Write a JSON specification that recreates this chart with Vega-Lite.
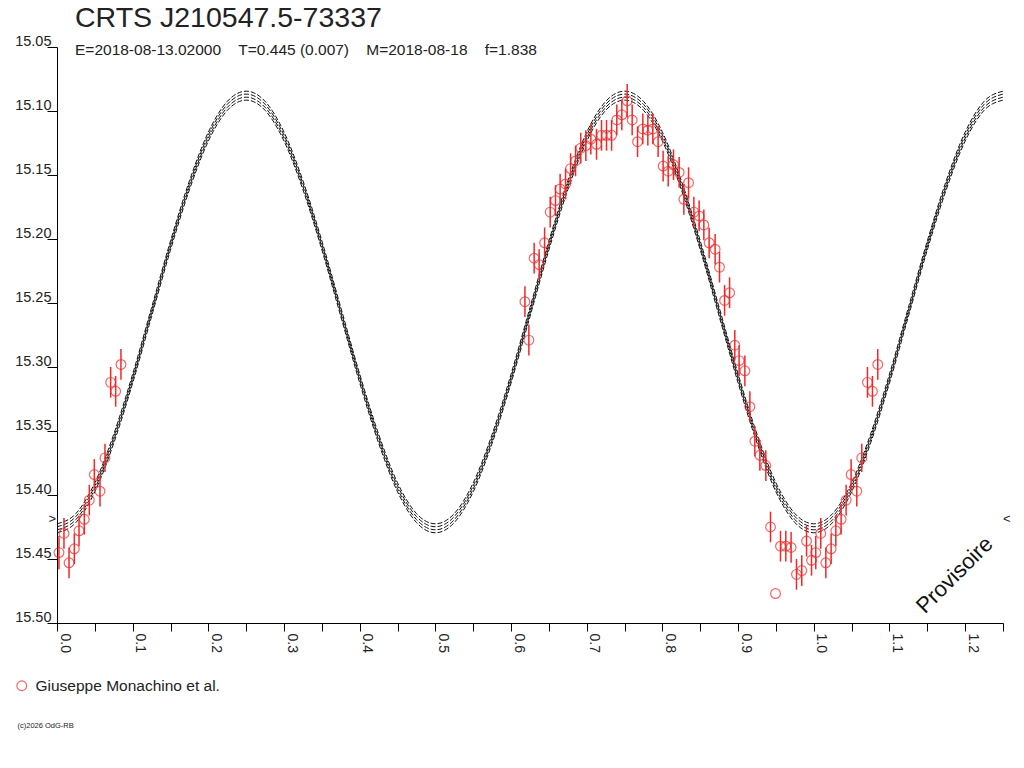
{
  "$schema": "https://vega.github.io/schema/vega-lite/v6.json",
  "width": 946,
  "height": 576,
  "autosize": "none",
  "padding": {"left": 57, "top": 47, "right": 21, "bottom": 145},
  "background": "white",
  "title": {
    "text": "CRTS J210547.5-73337",
    "subtitle": "E=2018-08-13.02000\u00a0\u00a0\u00a0\u00a0T=0.445 (0.007)\u00a0\u00a0\u00a0\u00a0M=2018-08-18\u00a0\u00a0\u00a0\u00a0f=1.838",
    "anchor": "start",
    "frame": "group",
    "dx": 18,
    "offset": -25,
    "font": "Liberation Sans",
    "fontSize": 28.5,
    "fontWeight": "normal",
    "color": "#222",
    "subtitleFont": "Liberation Sans",
    "subtitleFontSize": 15.5,
    "subtitleColor": "#222",
    "subtitlePadding": 10
  },
  "datasets": {
    "curve": [
      {"p": 0.000, "a": 15.4225, "b": 15.4248, "c": 15.4272, "d": 15.4295},
      {"p": 0.025, "a": 15.4145, "b": 15.4168, "c": 15.4192, "d": 15.4215},
      {"p": 0.050, "a": 15.3905, "b": 15.3928, "c": 15.3952, "d": 15.3975},
      {"p": 0.075, "a": 15.3525, "b": 15.3548, "c": 15.3572, "d": 15.3595},
      {"p": 0.100, "a": 15.3055, "b": 15.3078, "c": 15.3102, "d": 15.3125},
      {"p": 0.125, "a": 15.2535, "b": 15.2558, "c": 15.2582, "d": 15.2605},
      {"p": 0.150, "a": 15.2015, "b": 15.2038, "c": 15.2062, "d": 15.2085},
      {"p": 0.175, "a": 15.1545, "b": 15.1568, "c": 15.1592, "d": 15.1615},
      {"p": 0.200, "a": 15.1165, "b": 15.1188, "c": 15.1212, "d": 15.1235},
      {"p": 0.225, "a": 15.0925, "b": 15.0948, "c": 15.0972, "d": 15.0995},
      {"p": 0.250, "a": 15.0845, "b": 15.0868, "c": 15.0892, "d": 15.0915},
      {"p": 0.275, "a": 15.0925, "b": 15.0948, "c": 15.0972, "d": 15.0995},
      {"p": 0.300, "a": 15.1165, "b": 15.1188, "c": 15.1212, "d": 15.1235},
      {"p": 0.325, "a": 15.1545, "b": 15.1568, "c": 15.1592, "d": 15.1615},
      {"p": 0.350, "a": 15.2015, "b": 15.2038, "c": 15.2062, "d": 15.2085},
      {"p": 0.375, "a": 15.2535, "b": 15.2558, "c": 15.2582, "d": 15.2605},
      {"p": 0.400, "a": 15.3055, "b": 15.3078, "c": 15.3102, "d": 15.3125},
      {"p": 0.425, "a": 15.3525, "b": 15.3548, "c": 15.3572, "d": 15.3595},
      {"p": 0.450, "a": 15.3905, "b": 15.3928, "c": 15.3952, "d": 15.3975},
      {"p": 0.475, "a": 15.4145, "b": 15.4168, "c": 15.4192, "d": 15.4215},
      {"p": 0.500, "a": 15.4225, "b": 15.4248, "c": 15.4272, "d": 15.4295},
      {"p": 0.525, "a": 15.4145, "b": 15.4168, "c": 15.4192, "d": 15.4215},
      {"p": 0.550, "a": 15.3905, "b": 15.3928, "c": 15.3952, "d": 15.3975},
      {"p": 0.575, "a": 15.3525, "b": 15.3548, "c": 15.3572, "d": 15.3595},
      {"p": 0.600, "a": 15.3055, "b": 15.3078, "c": 15.3102, "d": 15.3125},
      {"p": 0.625, "a": 15.2535, "b": 15.2558, "c": 15.2582, "d": 15.2605},
      {"p": 0.650, "a": 15.2015, "b": 15.2038, "c": 15.2062, "d": 15.2085},
      {"p": 0.675, "a": 15.1545, "b": 15.1568, "c": 15.1592, "d": 15.1615},
      {"p": 0.700, "a": 15.1165, "b": 15.1188, "c": 15.1212, "d": 15.1235},
      {"p": 0.725, "a": 15.0925, "b": 15.0948, "c": 15.0972, "d": 15.0995},
      {"p": 0.750, "a": 15.0845, "b": 15.0868, "c": 15.0892, "d": 15.0915},
      {"p": 0.775, "a": 15.0925, "b": 15.0948, "c": 15.0972, "d": 15.0995},
      {"p": 0.800, "a": 15.1165, "b": 15.1188, "c": 15.1212, "d": 15.1235},
      {"p": 0.825, "a": 15.1545, "b": 15.1568, "c": 15.1592, "d": 15.1615},
      {"p": 0.850, "a": 15.2015, "b": 15.2038, "c": 15.2062, "d": 15.2085},
      {"p": 0.875, "a": 15.2535, "b": 15.2558, "c": 15.2582, "d": 15.2605},
      {"p": 0.900, "a": 15.3055, "b": 15.3078, "c": 15.3102, "d": 15.3125},
      {"p": 0.925, "a": 15.3525, "b": 15.3548, "c": 15.3572, "d": 15.3595},
      {"p": 0.950, "a": 15.3905, "b": 15.3928, "c": 15.3952, "d": 15.3975},
      {"p": 0.975, "a": 15.4145, "b": 15.4168, "c": 15.4192, "d": 15.4215},
      {"p": 1.000, "a": 15.4225, "b": 15.4248, "c": 15.4272, "d": 15.4295},
      {"p": 1.025, "a": 15.4145, "b": 15.4168, "c": 15.4192, "d": 15.4215},
      {"p": 1.050, "a": 15.3905, "b": 15.3928, "c": 15.3952, "d": 15.3975},
      {"p": 1.075, "a": 15.3525, "b": 15.3548, "c": 15.3572, "d": 15.3595},
      {"p": 1.100, "a": 15.3055, "b": 15.3078, "c": 15.3102, "d": 15.3125},
      {"p": 1.125, "a": 15.2535, "b": 15.2558, "c": 15.2582, "d": 15.2605},
      {"p": 1.150, "a": 15.2015, "b": 15.2038, "c": 15.2062, "d": 15.2085},
      {"p": 1.175, "a": 15.1545, "b": 15.1568, "c": 15.1592, "d": 15.1615},
      {"p": 1.200, "a": 15.1165, "b": 15.1188, "c": 15.1212, "d": 15.1235},
      {"p": 1.225, "a": 15.0925, "b": 15.0948, "c": 15.0972, "d": 15.0995},
      {"p": 1.250, "a": 15.0845, "b": 15.0868, "c": 15.0892, "d": 15.0915}
    ],
    "pts": [
      {"phase": 0.0026, "mag": 15.445, "err": 0.013},
      {"phase": 0.0092, "mag": 15.430, "err": 0.012},
      {"phase": 0.0159, "mag": 15.453, "err": 0.012},
      {"phase": 0.0229, "mag": 15.442, "err": 0.012},
      {"phase": 0.0291, "mag": 15.428, "err": 0.012},
      {"phase": 0.0361, "mag": 15.419, "err": 0.012},
      {"phase": 0.0427, "mag": 15.404, "err": 0.012},
      {"phase": 0.0493, "mag": 15.384, "err": 0.012},
      {"phase": 0.0568, "mag": 15.397, "err": 0.012},
      {"phase": 0.0634, "mag": 15.371, "err": 0.011},
      {"phase": 0.0709, "mag": 15.312, "err": 0.012},
      {"phase": 0.0775, "mag": 15.319, "err": 0.012},
      {"phase": 0.0845, "mag": 15.298, "err": 0.012},
      {"phase": 0.6183, "mag": 15.249, "err": 0.012},
      {"phase": 0.6235, "mag": 15.279, "err": 0.012},
      {"phase": 0.6305, "mag": 15.215, "err": 0.012},
      {"phase": 0.6371, "mag": 15.220, "err": 0.012},
      {"phase": 0.6443, "mag": 15.203, "err": 0.012},
      {"phase": 0.6517, "mag": 15.179, "err": 0.012},
      {"phase": 0.6587, "mag": 15.170, "err": 0.012},
      {"phase": 0.6648, "mag": 15.161, "err": 0.012},
      {"phase": 0.6720, "mag": 15.157, "err": 0.012},
      {"phase": 0.6786, "mag": 15.145, "err": 0.012},
      {"phase": 0.6852, "mag": 15.139, "err": 0.012},
      {"phase": 0.6921, "mag": 15.129, "err": 0.012},
      {"phase": 0.6988, "mag": 15.127, "err": 0.012},
      {"phase": 0.7054, "mag": 15.122, "err": 0.012},
      {"phase": 0.7129, "mag": 15.126, "err": 0.012},
      {"phase": 0.7195, "mag": 15.119, "err": 0.012},
      {"phase": 0.7261, "mag": 15.119, "err": 0.012},
      {"phase": 0.7328, "mag": 15.119, "err": 0.012},
      {"phase": 0.7397, "mag": 15.107, "err": 0.012},
      {"phase": 0.7463, "mag": 15.103, "err": 0.012},
      {"phase": 0.7534, "mag": 15.092, "err": 0.013},
      {"phase": 0.7600, "mag": 15.107, "err": 0.012},
      {"phase": 0.7671, "mag": 15.124, "err": 0.012},
      {"phase": 0.7741, "mag": 15.114, "err": 0.012},
      {"phase": 0.7807, "mag": 15.115, "err": 0.012},
      {"phase": 0.7873, "mag": 15.114, "err": 0.012},
      {"phase": 0.7943, "mag": 15.124, "err": 0.012},
      {"phase": 0.8009, "mag": 15.143, "err": 0.012},
      {"phase": 0.8076, "mag": 15.147, "err": 0.012},
      {"phase": 0.8146, "mag": 15.142, "err": 0.012},
      {"phase": 0.8221, "mag": 15.148, "err": 0.012},
      {"phase": 0.8283, "mag": 15.169, "err": 0.012},
      {"phase": 0.8345, "mag": 15.156, "err": 0.012},
      {"phase": 0.8415, "mag": 15.179, "err": 0.012},
      {"phase": 0.8485, "mag": 15.182, "err": 0.012},
      {"phase": 0.8547, "mag": 15.189, "err": 0.012},
      {"phase": 0.8617, "mag": 15.203, "err": 0.012},
      {"phase": 0.8696, "mag": 15.208, "err": 0.012},
      {"phase": 0.8754, "mag": 15.222, "err": 0.012},
      {"phase": 0.8821, "mag": 15.248, "err": 0.012},
      {"phase": 0.8887, "mag": 15.242, "err": 0.012},
      {"phase": 0.8956, "mag": 15.283, "err": 0.012},
      {"phase": 0.9013, "mag": 15.295, "err": 0.012},
      {"phase": 0.9089, "mag": 15.303, "err": 0.012},
      {"phase": 0.9155, "mag": 15.331, "err": 0.012},
      {"phase": 0.9221, "mag": 15.358, "err": 0.012},
      {"phase": 0.9287, "mag": 15.369, "err": 0.012},
      {"phase": 0.9366, "mag": 15.377, "err": 0.012},
      {"phase": 0.9428, "mag": 15.425, "err": 0.012},
      {"phase": 0.9494, "mag": 15.477, "err": 0.0},
      {"phase": 0.9560, "mag": 15.440, "err": 0.012},
      {"phase": 0.9630, "mag": 15.440, "err": 0.012},
      {"phase": 0.9700, "mag": 15.441, "err": 0.012},
      {"phase": 0.9771, "mag": 15.462, "err": 0.012},
      {"phase": 0.9841, "mag": 15.459, "err": 0.012},
      {"phase": 0.9904, "mag": 15.436, "err": 0.012},
      {"phase": 0.9970, "mag": 15.451, "err": 0.012},
      {"phase": 1.0026, "mag": 15.445, "err": 0.013},
      {"phase": 1.0092, "mag": 15.430, "err": 0.012},
      {"phase": 1.0159, "mag": 15.453, "err": 0.012},
      {"phase": 1.0229, "mag": 15.442, "err": 0.012},
      {"phase": 1.0291, "mag": 15.428, "err": 0.012},
      {"phase": 1.0361, "mag": 15.419, "err": 0.012},
      {"phase": 1.0427, "mag": 15.404, "err": 0.012},
      {"phase": 1.0493, "mag": 15.384, "err": 0.012},
      {"phase": 1.0568, "mag": 15.397, "err": 0.012},
      {"phase": 1.0634, "mag": 15.371, "err": 0.011},
      {"phase": 1.0709, "mag": 15.312, "err": 0.012},
      {"phase": 1.0775, "mag": 15.319, "err": 0.012},
      {"phase": 1.0845, "mag": 15.298, "err": 0.012}
    ]
  },
  "encoding": {
    "x": {
      "type": "quantitative",
      "scale": {"domain": [0, 1.25], "nice": false, "zero": false},
      "axis": {
        "values": [0, 0.05, 0.1, 0.15, 0.2, 0.25, 0.3, 0.35, 0.4, 0.45, 0.5, 0.55, 0.6, 0.65, 0.7, 0.75, 0.8, 0.85, 0.9, 0.95, 1.0, 1.05, 1.1, 1.15, 1.2, 1.25],
        "labelExpr": "round(datum.value * 20) % 2 == 0 ? format(datum.value, '.1f') : ''",
        "labelAngle": 90,
        "labelAlign": "left",
        "labelBaseline": "bottom",
        "labelPadding": 2,
        "labelFontSize": 14,
        "labelFlush": false,
        "labelOverlap": false,
        "tickSize": 8,
        "title": "(c)2026 OdG-RB",
        "titleX": -40,
        "titleY": 102,
        "titleAlign": "left",
        "titleBaseline": "middle",
        "titleFontSize": 7.5,
        "titleFontWeight": "normal",
        "titleColor": "#222"
      }
    },
    "y": {
      "type": "quantitative",
      "scale": {"domain": [15.05, 15.5], "reverse": true, "nice": false, "zero": false},
      "axis": {
        "values": [15.05, 15.1, 15.15, 15.2, 15.25, 15.3, 15.35, 15.4, 15.45, 15.5],
        "format": ".2f",
        "tickSize": 10,
        "labelPadding": -4,
        "labelAlign": "right",
        "labelBaseline": "alphabetic",
        "labelOffset": -2,
        "labelFontSize": 14.5,
        "labelFlush": false,
        "labelOverlap": false,
        "title": null
      }
    }
  },
  "layer": [
    {
      "data": {"name": "curve"},
      "transform": [{"fold": ["a", "b", "c", "d"], "as": ["line", "mag"]}],
      "mark": {"type": "line", "color": "#111", "strokeWidth": 1, "strokeDash": [5, 2], "interpolate": "monotone"},
      "encoding": {
        "x": {"field": "p"},
        "y": {"field": "mag"},
        "detail": {"field": "line", "type": "nominal"}
      }
    },
    {
      "data": {"name": "pts"},
      "mark": {"type": "errorbar", "color": "#f02828", "thickness": 1.5},
      "encoding": {
        "x": {"field": "phase"},
        "y": {"field": "mag"},
        "yError": {"field": "err"}
      }
    },
    {
      "data": {"name": "pts"},
      "mark": {"type": "point", "shape": "circle", "filled": false, "size": 95, "strokeWidth": 1.2},
      "encoding": {
        "x": {"field": "phase"},
        "y": {"field": "mag"},
        "color": {
          "datum": "Giuseppe Monachino et al.",
          "scale": {"range": ["#f02828"]},
          "legend": {
            "orient": "none",
            "legendX": -43,
            "legendY": 631,
            "title": null,
            "padding": 0,
            "labelFont": "Liberation Sans",
            "labelFontSize": 15.5,
            "labelColor": "#222",
            "labelOffset": 6,
            "labelLimit": 0,
            "symbolType": "circle",
            "symbolSize": 95,
            "symbolStrokeWidth": 1.2
          }
        }
      }
    },
    {
      "data": {"values": [{"phase": 0, "mag": 15.419, "t": ">"}]},
      "mark": {"type": "text", "align": "right", "baseline": "middle", "dx": -1, "fontSize": 13, "font": "Liberation Sans", "color": "#222"},
      "encoding": {"x": {"field": "phase"}, "y": {"field": "mag"}, "text": {"field": "t"}}
    },
    {
      "data": {"values": [{"phase": 1.25, "mag": 15.419, "t": "<"}]},
      "mark": {"type": "text", "align": "left", "baseline": "middle", "dx": 0, "fontSize": 13, "font": "Liberation Sans", "color": "#222"},
      "encoding": {"x": {"field": "phase"}, "y": {"field": "mag"}, "text": {"field": "t"}}
    },
    {
      "data": {"values": [{"phase": 1.186, "mag": 15.4625, "t": "Provisoire"}]},
      "mark": {"type": "text", "align": "center", "baseline": "middle", "angle": -45, "fontSize": 22, "font": "Liberation Sans", "color": "#111"},
      "encoding": {"x": {"field": "phase"}, "y": {"field": "mag"}, "text": {"field": "t"}}
    }
  ],
  "config": {
    "view": {"stroke": null},
    "font": "Liberation Sans",
    "axis": {
      "grid": false,
      "domainColor": "#000",
      "tickColor": "#000",
      "labelColor": "#222",
      "labelFont": "Liberation Sans",
      "titleFont": "Liberation Sans"
    }
  }
}
